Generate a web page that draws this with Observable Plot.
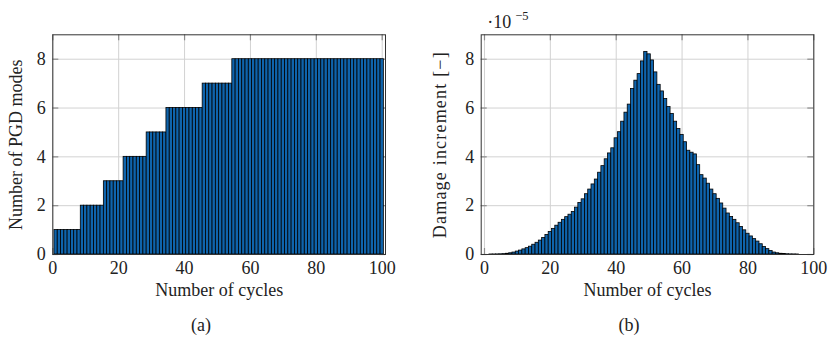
<!DOCTYPE html>
<html><head><meta charset="utf-8">
<script src="https://cdn.jsdelivr.net/npm/d3@7"></script>
<script src="https://cdn.jsdelivr.net/npm/@observablehq/plot@0.6"></script>
<style>
body{margin:0;background:#fff;}
#fig{position:relative;width:831px;height:337px;font-family:"Liberation Serif","DejaVu Serif",serif;color:#222;}
#pa,#pb{position:absolute;top:0;}
#pa{left:0}#pb{left:415px}
.cap{position:absolute;top:313px;font-size:18px;line-height:24px;transform:translateX(-50%);white-space:nowrap;}
</style></head><body>
<div id="fig"><div id="pa"></div><div id="pb"></div>
<div class="cap" style="left:201px">(a)</div><div class="cap" style="left:629px">(b)</div></div>
<script>
const cycles = d3.range(1, 101);
const pgdModes = [
  1,1,1,1,1,1,1,1, 2,2,2,2,2,2,2, 3,3,3,3,3,3, 4,4,4,4,4,4,4, 5,5,5,5,5,5,
  6,6,6,6,6,6,6,6,6,6,6, 7,7,7,7,7,7,7,7,7,
  8,8,8,8,8,8,8,8,8,8,8,8,8,8,8,8,8,8,8,8,8,8,8,8,8,8,8,8,8,8,8,8,8,8,8,8,8,8,8,8,8,8,8,8,8,8
];
// damage increment, in units of 1e-5
const damage = [
  0,0.001,0.002,0.004,0.008,0.015,0.03,0.05,0.08,0.12,
  0.16,0.21,0.26,0.32,0.40,0.48,0.57,0.68,0.80,0.92,
  1.05,1.18,1.30,1.42,1.53,1.63,1.74,1.92,2.11,2.26,
  2.47,2.66,2.87,3.07,3.35,3.62,3.90,4.14,4.35,4.76,
  5.01,5.44,5.81,6.14,6.78,7.12,7.39,7.91,8.30,8.20,
  7.95,7.46,6.95,6.68,6.37,6.04,5.76,5.44,5.14,4.90,
  4.60,4.25,4.17,4.10,3.66,3.25,3.11,2.90,2.66,2.47,
  2.28,2.09,1.88,1.68,1.54,1.42,1.28,1.13,0.99,0.85,
  0.74,0.63,0.53,0.42,0.31,0.22,0.14,0.08,0.05,0.03,
  0.02,0.01,0.005,0.003,0.001,0,0,0,0,0
];
const xTicks = [0,20,40,60,80,100];
const yTicks = [0,2,4,6,8];
const xLabel = "Number of cycles";
const yLabelA = "Number of PGD modes";
const yLabelB = "Damage increment [−]";
const barFill = "#0f64ac";
const FONT = '"Liberation Serif","DejaVu Serif",serif';

function panel({values, xDomain, width, marginLeft, marginRight, yLabel, yLabelDx, extra = []}) {
  const H = 300, mt = 34.3, mb = 46;
  const ih = H - mt - mb, iw = width - marginLeft - marginRight, tl = 6;
  const data = cycles.map((c, i) => ({c, v: values[i]}));
  return Plot.plot({
    width, height: H, marginLeft, marginRight, marginTop: mt, marginBottom: mb,
    style: {fontFamily: FONT, fontSize: "18px", color: "#222", background: "white", overflow: "visible"},
    x: {domain: xDomain},
    y: {domain: [0, 9]},
    marks: [
      Plot.gridX(xTicks, {stroke: "#d2d2d2", strokeOpacity: 1}),
      Plot.gridY(yTicks, {stroke: "#d2d2d2", strokeOpacity: 1}),
      Plot.tickX(xTicks, {x: d => d, stroke: "#8c8c8c", strokeWidth: 1.2, insetBottom: ih - tl}),
      Plot.tickX(xTicks, {x: d => d, stroke: "#8c8c8c", strokeWidth: 1.2, insetTop: ih - tl}),
      Plot.tickY(yTicks, {y: d => d, stroke: "#8c8c8c", strokeWidth: 1.2, insetRight: iw - tl}),
      Plot.tickY(yTicks, {y: d => d, stroke: "#8c8c8c", strokeWidth: 1.2, insetLeft: iw - tl}),
      Plot.rect(data, {x1: d => d.c - 0.5, x2: d => d.c + 0.5, y1: 0, y2: "v", fill: barFill, stroke: "#000", strokeWidth: 0.8}),
      Plot.frame({stroke: "#333", strokeWidth: 1}),
      Plot.axisX(xTicks, {tickSize: 0, tickPadding: 7, label: null, fill: "#222", fontSize: 18}),
      Plot.axisY(yTicks, {tickSize: 0, tickPadding: 7, label: null, fill: "#222", fontSize: 18}),
      Plot.text([xLabel], {frameAnchor: "bottom", dy: 35.7, lineAnchor: "middle", textAnchor: "middle", fill: "#222", fontSize: 18}),
      Plot.text([yLabel], {frameAnchor: "left", rotate: -90, dx: yLabelDx, lineAnchor: "middle", textAnchor: "middle", fill: "#222", fontSize: 18}),
      ...extra
    ]
  });
}

const svgA = panel({values: pgdModes, xDomain: [0, 101], width: 415, marginLeft: 52.3, marginRight: 30, yLabel: yLabelA, yLabelDx: -36.3});
document.getElementById("pa").append(svgA);

const svgB = panel({values: damage, xDomain: [-1, 100], width: 416, marginLeft: 65.7, marginRight: 17.7, yLabel: yLabelB, yLabelDx: -40.5,
  extra: [
    Plot.text(["·10"], {frameAnchor: "top-left", dx: 6, dy: -7, lineAnchor: "bottom", textAnchor: "start", fill: "#222", fontSize: 18}),
    Plot.text(["−5"], {frameAnchor: "top-left", dx: 34, dy: -15, lineAnchor: "bottom", textAnchor: "start", fontSize: 12.5, fill: "#222"})
  ]});
document.getElementById("pb").append(svgB);
d3.select(svgB).selectAll("text").filter(function() { return this.textContent === yLabelB; }).style("letter-spacing", "1.2px");
</script>
</body></html>
